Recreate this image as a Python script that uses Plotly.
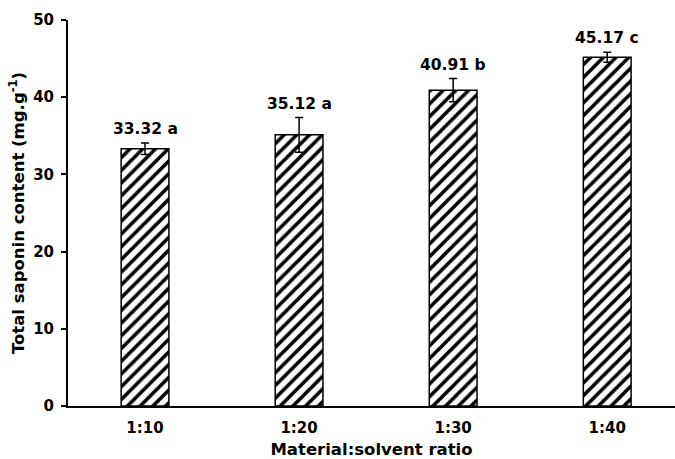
import plotly.graph_objects as go

# Saponin yield at different material:solvent ratios
ratios = ["1:10", "1:20", "1:30", "1:40"]
saponin = [33.32, 35.12, 40.91, 45.17]
std_err = [0.75, 2.25, 1.5, 0.65]
letters = ["a", "a", "b", "c"]

FONT = "Verdana, DejaVu Sans, sans-serif"

fig = go.Figure()
fig.add_trace(go.Bar(
    x=list(range(len(ratios))),
    y=saponin,
    width=0.31,
    marker=dict(
        color="white",
        line=dict(color="black", width=1.5),
        pattern=dict(shape="/", fgcolor="black", bgcolor="white",
                     fgopacity=1, size=9, solidity=0.4, fillmode="replace"),
    ),
    error_y=dict(type="data", array=std_err, visible=True,
                 color="black", thickness=1.5, width=4),
    showlegend=False,
))

# Mean value + significance letter above each error bar
for i, (v, e, l) in enumerate(zip(saponin, std_err, letters)):
    fig.add_annotation(
        x=i, y=v + e, text=f"<b>{v:.2f} {l}</b>",
        showarrow=False, yanchor="bottom", yshift=3,
        font=dict(family=FONT, size=15.5, color="black"),
    )

fig.update_layout(
    width=675, height=459,
    margin=dict(l=68, r=0, t=20, b=53),
    plot_bgcolor="white", paper_bgcolor="white",
    font=dict(family=FONT, color="black"),
)
fig.update_xaxes(
    range=[-0.5, 3.44],
    tickmode="array", tickvals=list(range(len(ratios))),
    ticktext=[f"<b>{r}</b>" for r in ratios],
    tickfont=dict(family=FONT, size=15),
    ticklabelstandoff=7,
    showline=True, linecolor="black", linewidth=2,
    ticks="", showgrid=False, zeroline=False,
    title=dict(text="<b>Material:solvent ratio</b>",
               font=dict(family=FONT, size=16.5), standoff=9),
)
fig.update_yaxes(
    range=[0, 50], dtick=10,
    tickfont=dict(family=FONT, size=15),
    tickprefix="<b>", ticksuffix="</b>",
    ticklabelstandoff=4,
    showline=True, linecolor="black", linewidth=2,
    ticks="outside", ticklen=5, tickwidth=2, tickcolor="black",
    showgrid=False, zeroline=False,
    title=dict(text="<b>Total saponin content (mg.g<sup>-1</sup>)</b>",
               font=dict(family=FONT, size=16.5), standoff=4),
)

fig.write_html("out.html")
